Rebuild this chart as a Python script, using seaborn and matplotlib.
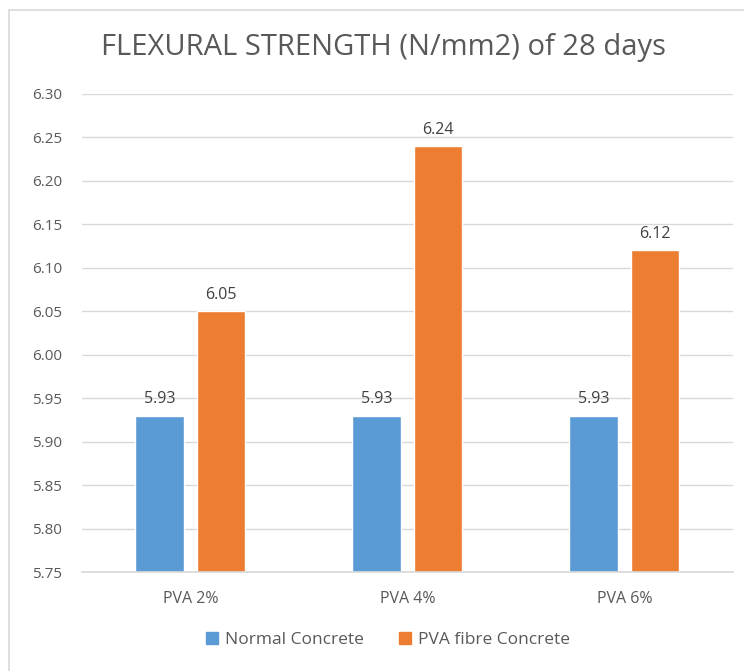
import pandas as pd
import seaborn as sns
import matplotlib.pyplot as plt
from matplotlib.patches import Rectangle

# data
categories = ["PVA 2%", "PVA 4%", "PVA 6%"]
normal = [5.93, 5.93, 5.93]
pva_fibre = [6.05, 6.24, 6.12]
series_names = ["Normal Concrete", "PVA fibre Concrete"]
colors = ["#5B9BD5", "#ED7D31"]

df = pd.DataFrame({
    "mix": categories * 2,
    "strength": normal + pva_fibre,
    "series": [series_names[0]] * 3 + [series_names[1]] * 3,
})

sns.set_theme(style="white")
plt.rcParams['font.family'] = ['Open Sans', 'DejaVu Sans']

fig = plt.figure(figsize=(7.44, 6.71), dpi=100)
ax = fig.add_axes([0.110, 0.1475, 0.875, 0.7125])

sns.barplot(data=df, x="mix", y="strength", hue="series",
            palette=colors, saturation=1, width=0.57, gap=0.22,
            ax=ax, legend=False)

ax.set_ylim(5.75, 6.30)
ax.set_yticks([5.75 + 0.05 * i for i in range(12)])
ax.set_yticklabels([f"{5.75 + 0.05 * i:.2f}" for i in range(12)])
ax.yaxis.grid(True, color="#d9d9d9", linewidth=1)
ax.set_axisbelow(True)
for s in ["top", "right", "left"]:
    ax.spines[s].set_visible(False)
ax.spines["bottom"].set_color("#d9d9d9")
ax.tick_params(axis="y", length=0, colors="#595959", labelsize=11, pad=14)
ax.tick_params(axis="x", length=0, colors="#595959", labelsize=11.5, pad=14)
ax.set_xlabel("")
ax.set_ylabel("")

for cont in ax.containers:
    ax.bar_label(cont, fmt="%.2f", padding=6, fontsize=11.5, color="#404040")

fig.text(383 / 744, 1 - 48 / 671, "FLEXURAL STRENGTH (N/mm2) of 28 days",
         ha="center", va="center", fontsize=21, color="#595959")

handles = [Rectangle((0, 0), 1, 1, color=c) for c in colors]
fig.legend(handles, series_names, loc="center", bbox_to_anchor=(388 / 744, 1 - 640 / 671),
           ncol=2, frameon=False, fontsize=12.5, handlelength=0.7, handleheight=0.7,
           handletextpad=0.4, columnspacing=2.0, labelcolor="#595959")

fig.patches.append(Rectangle((9 / 744, -0.1), 1.2, 1 - 10 / 671 + 0.1,
                             transform=fig.transFigure, fill=False,
                             edgecolor="#d9d9d9", linewidth=1.2))

fig.savefig("out.png", dpi=100)
